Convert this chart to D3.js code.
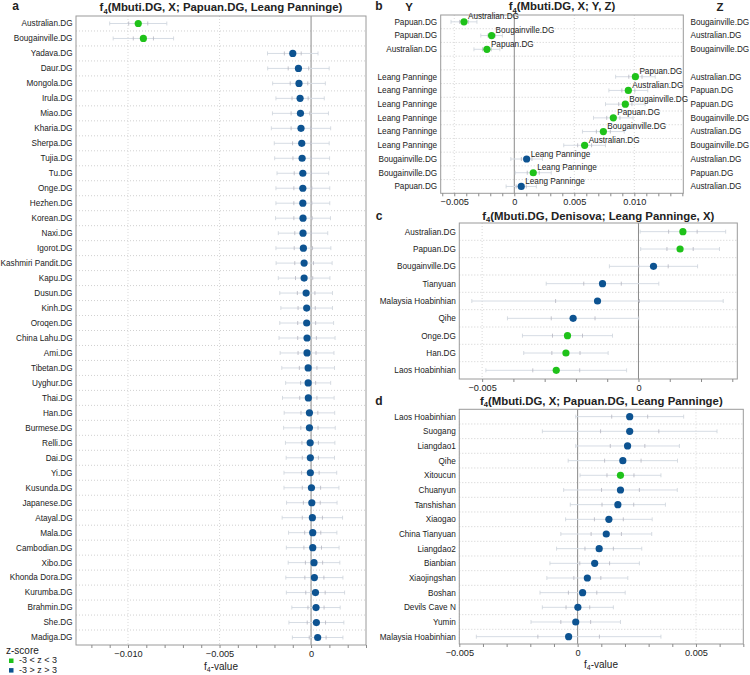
<!DOCTYPE html>
<html><head><meta charset="utf-8">
<script src="https://cdn.jsdelivr.net/npm/d3@7"></script>
<style>body{margin:0;background:#fff;} text{font-family:"Liberation Sans",Arial,Helvetica,sans-serif;}</style>
</head><body>
<script>
// ---------- Panel a ----------
const aLabels = ["Australian.DG","Bougainville.DG","Yadava.DG","Daur.DG","Mongola.DG","Irula.DG","Miao.DG","Kharia.DG","Sherpa.DG","Tujia.DG","Tu.DG","Onge.DG","Hezhen.DG","Korean.DG","Naxi.DG","Igorot.DG","Kashmiri Pandit.DG","Kapu.DG","Dusun.DG","Kinh.DG","Oroqen.DG","China Lahu.DG","Ami.DG","Tibetan.DG","Uyghur.DG","Thai.DG","Han.DG","Burmese.DG","Relli.DG","Dai.DG","Yi.DG","Kusunda.DG","Japanese.DG","Atayal.DG","Mala.DG","Cambodian.DG","Xibo.DG","Khonda Dora.DG","Kurumba.DG","Brahmin.DG","She.DG","Madiga.DG"];
const aValues = [-0.00944,-0.00916,-0.00100,-0.00069,-0.00066,-0.00060,-0.00058,-0.00055,-0.00051,-0.00049,-0.00045,-0.00045,-0.00045,-0.00044,-0.00044,-0.00042,-0.00038,-0.00038,-0.00027,-0.00024,-0.00024,-0.00022,-0.00022,-0.00016,-0.00016,-0.00015,-0.00009,-0.00009,-0.00005,-0.00004,-0.00004,0.00002,0.00004,0.00007,0.00009,0.00009,0.00016,0.00018,0.00024,0.00027,0.00029,0.00036];
const aSE = [0.00052,0.00055,0.00046,0.00056,0.00048,0.00044,0.00051,0.00054,0.00050,0.00050,0.00047,0.00049,0.00049,0.00050,0.00045,0.00050,0.00051,0.00047,0.00048,0.00047,0.00049,0.00051,0.00049,0.00048,0.00041,0.00047,0.00046,0.00047,0.00045,0.00044,0.00048,0.00050,0.00046,0.00055,0.00044,0.00048,0.00047,0.00052,0.00053,0.00044,0.00050,0.00046];
const aGreen = [1,1,0,0,0,0,0,0,0,0,0,0,0,0,0,0,0,0,0,0,0,0,0,0,0,0,0,0,0,0,0,0,0,0,0,0,0,0,0,0,0,0];

// ---------- Panel b ----------
const bY = ["Papuan.DG","Papuan.DG","Australian.DG","","Leang Panninge","Leang Panninge","Leang Panninge","Leang Panninge","Leang Panninge","Leang Panninge","Bougainville.DG","Bougainville.DG","Papuan.DG"];
const bX = ["Australian.DG","Bougainville.DG","Papuan.DG","","Papuan.DG","Australian.DG","Bougainville.DG","Papuan.DG","Bougainville.DG","Australian.DG","Leang Panninge","Leang Panninge","Leang Panninge"];
const bZ = ["Bougainville.DG","Australian.DG","Bougainville.DG","","Australian.DG","Papuan.DG","Papuan.DG","Bougainville.DG","Australian.DG","Bougainville.DG","Australian.DG","Papuan.DG","Australian.DG"];
const bValues = [-0.00419,-0.00189,-0.00228,null,0.01009,0.00950,0.00925,0.00825,0.00742,0.00586,0.00103,0.00158,0.00058];
const bSE = [0.00036,0.00030,0.00036,null,0.00055,0.00054,0.00055,0.00055,0.00058,0.00058,0.00044,0.00050,0.00042];
const bGreen = [1,1,1,0,1,1,1,1,1,1,0,1,0];

// ---------- Panel c ----------
const cLabels = ["Australian.DG","Papuan.DG","Bougainville.DG","Tianyuan","Malaysia Hoabinhian","Qihe","Onge.DG","Han.DG","Laos Hoabinhian"];
const cValues = [0.00142,0.00133,0.00048,-0.00115,-0.00131,-0.00209,-0.00227,-0.00232,-0.00263];
const cSE = [0.000456,0.00042,0.00047,0.00060,0.00134,0.00070,0.00048,0.00045,0.00075];
const cGreen = [1,1,0,0,0,0,1,1,1];

// ---------- Panel d ----------
const dLabels = ["Laos Hoabinhian","Suogang","Liangdao1","Qihe","Xitoucun","Chuanyun","Tanshishan","Xiaogao","China Tianyuan","Liangdao2","Bianbian","Xiaojingshan","Boshan","Devils Cave N","Yumin","Malaysia Hoabinhian"];
const dValues = [0.00220,0.00220,0.00211,0.00191,0.00181,0.00181,0.00170,0.00132,0.00121,0.00091,0.00072,0.00041,0.00021,0.00001,-0.00008,-0.00038];
const dSE = [0.00076,0.00123,0.00073,0.00077,0.00057,0.00080,0.00067,0.00061,0.00064,0.00060,0.00063,0.00057,0.00060,0.00050,0.00063,0.00130];
const dGreen = [0,0,0,0,1,0,0,0,0,0,0,0,0,0,0,0];

const legendLabels = ["-3 < z < 3","-3 > z > 3"];

const GREEN = "#1fc21a", BLUE = "#0d5391";
const FS = 8.2, TFS = 11.4, AFS = 9.2;

const svg = d3.select("body").append("svg").attr("width",750).attr("height",675);

function fmt(d){ return Math.abs(d) < 1e-12 ? "0" : d3.format(".3f")(d); }

function title(g, cx, y, parts){
  const t = g.append("text").attr("x",cx).attr("y",y).attr("text-anchor","middle")
    .attr("font-size",TFS).attr("font-weight","bold").attr("fill","#222");
  t.append("tspan").text("f");
  t.append("tspan").attr("font-size",7.6).attr("dy",2.5).text("4");
  t.append("tspan").attr("dy",-2.5).text(parts);
}

function panel(o){
  const g = svg.append("g");
  const n = o.values.length;
  const x = d3.scaleLinear().domain(o.domain).range([o.x0,o.x1]);
  const y = d3.scaleBand().domain(d3.range(n)).range([o.y0,o.y1]);
  const cy = i => y(i) + y.bandwidth()/2;
  g.selectAll(".hs").data(d3.range(1,n)).join("line")
    .attr("x1",o.x0).attr("x2",o.x1).attr("y1",i=>y(i)).attr("y2",i=>y(i))
    .attr("stroke","#c4c4c4").attr("stroke-width",0.8).attr("stroke-dasharray","1,2");
  const lo = Math.ceil(o.domain[0]/0.001 - 1e-6), hi = Math.floor(o.domain[1]/0.001 + 1e-6);
  const ticks = d3.range(lo, hi+1).map(k => k*0.001);
  const isMajor = d => Math.abs(d/0.005 - Math.round(d/0.005)) < 1e-6;
  const majors = ticks.filter(isMajor);
  g.selectAll(".vg").data(majors.filter(d=>Math.abs(d)>1e-9)).join("line")
    .attr("x1",d=>x(d)).attr("x2",d=>x(d)).attr("y1",o.y0).attr("y2",o.y1)
    .attr("stroke","#cfcfcf").attr("stroke-width",0.8).attr("stroke-dasharray","1,2");
  g.append("line").attr("x1",x(0)).attr("x2",x(0)).attr("y1",o.y0).attr("y2",o.y1)
    .attr("stroke","#8a8a8a").attr("stroke-width",1);
  const rows = d3.range(n).filter(i => o.values[i] !== null);
  g.selectAll(".eb").data(rows).join("line")
    .attr("x1",i=>x(o.values[i]-3*o.se[i])).attr("x2",i=>x(o.values[i]+3*o.se[i]))
    .attr("y1",cy).attr("y2",cy).attr("stroke","#d6dce4").attr("stroke-width",1);
  const tk = [];
  rows.forEach(i => [-3,-1,1,3].forEach(m => tk.push({i, v:o.values[i]+m*o.se[i], m})));
  g.selectAll(".et").data(tk).join("line")
    .attr("x1",d=>x(d.v)).attr("x2",d=>x(d.v)).attr("y1",d=>cy(d.i)-2).attr("y2",d=>cy(d.i)+2)
    .attr("stroke",d=>Math.abs(d.m)===1?"#b5b5c0":"#cdd3db").attr("stroke-width",0.8);
  g.selectAll(".dot").data(rows).join("circle")
    .attr("cx",i=>x(o.values[i])).attr("cy",cy).attr("r",3.6)
    .attr("fill",i=>o.green[i]?GREEN:BLUE);
  g.append("rect").attr("x",o.x0).attr("y",o.y0).attr("width",o.x1-o.x0).attr("height",o.y1-o.y0)
    .attr("fill","none").attr("stroke","#9a9a9a").attr("stroke-width",1);
  const ax = g.append("g").attr("transform",`translate(0,${o.y1})`)
    .call(d3.axisBottom(x).tickValues(ticks).tickSize(3).tickPadding(2.5).tickFormat(d=>isMajor(d)?fmt(d):""));
  ax.select(".domain").remove();
  ax.attr("font-family",null).attr("font-size",null);
  ax.selectAll(".tick line").attr("stroke","#8a8a8a");
  ax.selectAll(".tick text").attr("font-size",AFS).attr("fill","#222");
  if (o.labels) {
    g.selectAll(".rl").data(d3.range(n)).join("text")
      .attr("x",o.x0-3.5).attr("y",cy).attr("dy","0.35em").attr("text-anchor","end")
      .attr("font-size",FS).attr("fill","#222").text(i=>o.labels[i]);
  }
  return {g,x,y,cy};
}

// panel a
panel({labels:aLabels, values:aValues, se:aSE, green:aGreen,
  x0:76, x1:366, y0:16, y1:645, domain:[-0.01284,0.003]});
title(svg, 221, 11, "(Mbuti.DG, X; Papuan.DG, Leang Panninge)");

// panel b
const pb = panel({labels:bY, values:bValues, se:bSE, green:bGreen,
  x0:440.7, x1:683.3, y0:15, y1:193.3, domain:[-0.00613,0.01408]});
title(svg, 562, 10, "(Mbuti.DG, X; Y, Z)");
pb.g.selectAll(".xl").data(d3.range(bValues.length).filter(i=>bValues[i]!==null)).join("text")
  .attr("x",i=>pb.x(bValues[i])+4).attr("y",i=>pb.cy(i)-2.5)
  .attr("font-size",FS).attr("fill","#222").text(i=>bX[i]);
pb.g.selectAll(".zl").data(d3.range(bZ.length)).join("text")
  .attr("x",690.5).attr("y",i=>pb.cy(i)).attr("dy","0.35em")
  .attr("font-size",FS).attr("fill","#222").text(i=>bZ[i]);
svg.append("text").attr("x",409).attr("y",11).attr("text-anchor","middle").attr("font-size",TFS).attr("font-weight","bold").attr("fill","#222").text("Y");
svg.append("text").attr("x",720).attr("y",11).attr("text-anchor","middle").attr("font-size",TFS).attr("font-weight","bold").attr("fill","#222").text("Z");

// panel c
panel({labels:cLabels, values:cValues, se:cSE, green:cGreen,
  x0:459.3, x1:737.3, y0:223, y1:379, domain:[-0.00573,0.00316]});
title(svg, 598.3, 219.5, "(Mbuti.DG, Denisova; Leang Panninge, X)");

// panel d
panel({labels:dLabels, values:dValues, se:dSE, green:dGreen,
  x0:459.3, x1:743.3, y0:409.3, y1:644, domain:[-0.005,0.0070]});
title(svg, 601.3, 404.5, "(Mbuti.DG, X; Papuan.DG, Leang Panninge)");

// axis titles
function xTitle(cx, y){
  const t = svg.append("text").attr("x",cx).attr("y",y).attr("text-anchor","middle").attr("font-size",10).attr("fill","#222");
  t.append("tspan").text("f");
  t.append("tspan").attr("font-size",7).attr("dy",2.2).text("4");
  t.append("tspan").attr("dy",-2.2).text("-value");
}
xTitle(221, 670);
xTitle(601, 668);

// panel letters
[["a",15.5,10],["b",379,10],["c",379,219.5],["d",379,404.5]].forEach(([l,xx,yy]) =>
  svg.append("text").attr("x",xx).attr("y",yy).attr("text-anchor","middle").attr("font-size",12).attr("font-weight","bold").attr("fill","#222").text(l));

// legend
svg.append("text").attr("x",6).attr("y",654).attr("font-size",10).attr("fill","#222").text("z-score");
[GREEN,BLUE].forEach((c,i)=>{
  svg.append("rect").attr("x",9).attr("y",658.5+i*9.6).attr("width",4.5).attr("height",4.5).attr("fill",c);
  svg.append("text").attr("x",19).attr("y",663+i*9.6).attr("font-size",9).attr("fill","#222").text(legendLabels[i]);
});
</script>
</body></html>
